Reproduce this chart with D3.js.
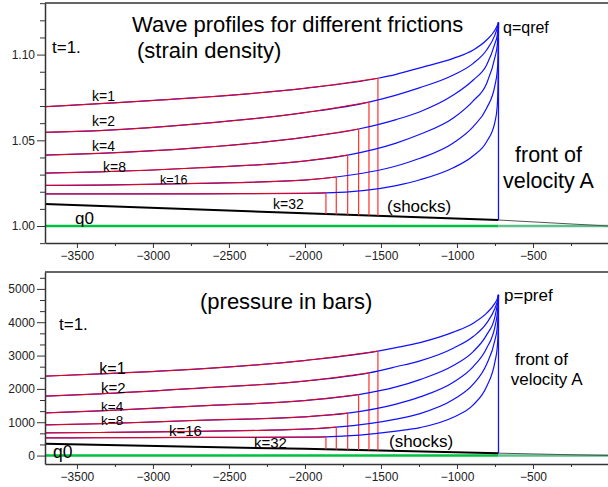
<!DOCTYPE html>
<html>
<head>
<meta charset="utf-8">
<script src="https://cdn.jsdelivr.net/npm/d3@7"></script>
<style>
  body { margin: 0; background: #fff; }
  svg { display: block; font-family: "Liberation Sans", Arial, sans-serif; }
  .tick text { font-size: 12px; fill: #222; }
</style>
</head>
<body>
<svg id="chart" width="608" height="487"></svg>
<script>
// Friction parameters and the common x grid of the profiles
const kValues = [1, 2, 4, 8, 16, 32];
const gridX = [-3710, -3350, -2690, -2005, -1400, -1243, -1024, -893, -805, -750, -735, -729];
const frontX = -727;

// Strain density profiles (top panel), one per k
const strainK1 = [1.0696, 1.0714, 1.0750, 1.0803, 1.0885, 1.0923, 1.0978, 1.1027, 1.1085, 1.1143, 1.1170, 1.1182];
const strainK2 = [1.0547, 1.0557, 1.0597, 1.0661, 1.0764, 1.0807, 1.0881, 1.0949, 1.1027, 1.1115, 1.1155, 1.1175];
const strainK4 = [1.0414, 1.0424, 1.0457, 1.0517, 1.0621, 1.0667, 1.0764, 1.0852, 1.0939, 1.1065, 1.1114, 1.1160];
const strainK8 = [1.0309, 1.0316, 1.0340, 1.0379, 1.0484, 1.0535, 1.0630, 1.0730, 1.0832, 1.0985, 1.1056, 1.1135];
const strainK16 = [1.0237, 1.0239, 1.0249, 1.0268, 1.0350, 1.0395, 1.0485, 1.0580, 1.0687, 1.0822, 1.0905, 1.0998];
const strainK32 = [1.0187, 1.0187, 1.0188, 1.0191, 1.0236, 1.0270, 1.0340, 1.0410, 1.0492, 1.0608, 1.0700, 1.0880];
const qRef = 1.1187;

// Pressure profiles in bars (bottom panel), one per k
const pressK1 = [2382, 2450, 2601, 2850, 3238, 3390, 3702, 3972, 4272, 4572, 4700, 4780];
const pressK2 = [1782, 1850, 2025, 2232, 2665, 2841, 3222, 3570, 3972, 4422, 4620, 4740];
const pressK4 = [1281, 1340, 1490, 1650, 2060, 2280, 2700, 3120, 3621, 4170, 4521, 4690];
const pressK8 = [921, 955, 1060, 1161, 1545, 1760, 2200, 2670, 3222, 3870, 4250, 4560];
const pressK16 = [681, 692, 728, 792, 1095, 1260, 1680, 2140, 2740, 3471, 3850, 4250];
const pressK32 = [531, 534, 545, 552, 735, 840, 1150, 1521, 2070, 2820, 3250, 3800];
const pRef = 4821;

// Shock positions and the profile values there
const shockX = [-1520, -1579, -1647, -1719, -1794, -1862];
const shockStrain = [1.0862, 1.0723, 1.0566, 1.0414, 1.0286, 1.0193];
const shockPress = [3132, 2481, 1830, 1272, 852, 561];

// Initial state q0
const q0StrainX = [-3710, -1862, -727, 0];
const q0Strain = [1.0128, 1.0070, 1.0035, 1.0];
const q0PressX = [-3710, -2005, -727, 0];
const q0Press = [351, 201, 72, 0];
const strainBase = 1.0;
const pressBase = 0;

// Tick values
const xTicks = [-3500, -3000, -2500, -2000, -1500, -1000, -500];
const xMinorTicks = [-3250, -2750, -2250, -1750, -1250, -750, -250];
const strainTicks = [1.00, 1.05, 1.10];
const strainMinorTicks = [0.99, 1.01, 1.02, 1.03, 1.04, 1.06, 1.07, 1.08, 1.09, 1.11, 1.12, 1.13];
const pressTicks = [0, 1000, 2000, 3000, 4000, 5000];
const pressMinorTicks = [333, 667, 1333, 1667, 2333, 2667, 3333, 3667, 4333, 4667, 5333];

let svg = d3.select("#chart");
let x = d3.scaleLinear().domain([-3710, 0]).range([45, 609]);

function drawPanel(opt) {
    let y = d3.scaleLinear().domain(opt.yDomain).range([opt.bottom, opt.top]);
    let g = svg.append("g");
    let line = d3.line().x(d => x(d[0])).y(d => y(d[1])).curve(d3.curveMonotoneX);
    let straight = d3.line().x(d => x(d[0])).y(d => y(d[1]));

    // base level (green), lighter right of the front
    g.append("line").attr("x1", x(-3710)).attr("x2", x(frontX))
        .attr("y1", y(opt.base)).attr("y2", y(opt.base))
        .attr("stroke", "#00c040").attr("stroke-width", 2.5);
    g.append("line").attr("x1", x(frontX)).attr("x2", x(0))
        .attr("y1", y(opt.base)).attr("y2", y(opt.base))
        .attr("stroke", "#5cc08a").attr("stroke-width", 2.5);

    // initial state line (black)
    let q0pts = opt.q0x.map((d, i) => [d, opt.q0y[i]]);
    let q0at = d3.scaleLinear().domain(opt.q0x).range(opt.q0y);
    g.append("path").attr("d", straight(q0pts.filter(p => p[0] <= frontX)))
        .attr("fill", "none").attr("stroke", "#000").attr("stroke-width", 2);
    g.append("path").attr("d", straight(q0pts.filter(p => p[0] >= frontX)))
        .attr("fill", "none").attr("stroke", "#555").attr("stroke-width", 1);

    // profiles for every k
    opt.curves.forEach((vals, i) => {
        let pts = gridX.map((d, j) => [d, vals[j]]);
        pts.push([shockX[i], opt.shockY[i]]);
        pts.sort((a, b) => a[0] - b[0]);
        pts.push([frontX, opt.peak]);

        g.append("path").attr("d", line(pts))
            .attr("fill", "none").attr("stroke", "#1010ff").attr("stroke-width", 1.2);
        g.append("path").attr("d", line(pts.filter(p => p[0] <= shockX[i])))
            .attr("fill", "none").attr("stroke", "#ff0000").attr("stroke-width", 1);

        // shock jump
        g.append("line").attr("x1", x(shockX[i])).attr("x2", x(shockX[i]))
            .attr("y1", y(opt.shockY[i])).attr("y2", y(q0at(shockX[i])))
            .attr("stroke", "#ff3030").attr("stroke-width", 1.2);
    });

    // front of velocity A
    g.append("line").attr("x1", x(frontX)).attr("x2", x(frontX))
        .attr("y1", y(opt.peak)).attr("y2", y(q0at(frontX)))
        .attr("stroke", "#1010ff").attr("stroke-width", 1.3);

    // axes
    let yAxis = d3.axisLeft(y).tickValues(opt.ticks).tickFormat(opt.fmt)
        .tickSize(8).tickSizeOuter(0).tickPadding(2);
    let yMinor = d3.axisLeft(y).tickValues(opt.minor).tickFormat("")
        .tickSize(5).tickSizeOuter(0);
    let xAxis = d3.axisBottom(x).tickValues(xTicks).tickFormat(d3.format("d"))
        .tickSize(5).tickSizeOuter(0).tickPadding(3);
    let xMinor = d3.axisBottom(x).tickValues(xMinorTicks).tickFormat("").tickSize(3).tickSizeOuter(0);

    g.append("g").attr("transform", "translate(45,0)").call(yMinor).select(".domain").remove();
    g.append("g").attr("transform", "translate(45,0)").call(yAxis);
    g.append("g").attr("transform", "translate(0," + opt.bottom + ")").call(xMinor).select(".domain").remove();
    g.append("g").attr("transform", "translate(0," + opt.bottom + ")").call(xAxis);
    g.append("line").attr("x1", 45).attr("x2", 608).attr("y1", opt.top).attr("y2", opt.top)
        .attr("stroke", "#333").attr("stroke-width", 1.5);

    g.selectAll(".domain").attr("stroke", "#333").attr("stroke-width", 1.5);
    g.selectAll(".tick line").attr("stroke", "#333");

    // annotations
    opt.labels.forEach(l => {
        g.append("text").attr("x", l[1]).attr("y", l[2])
            .attr("font-size", l[3] + "px").attr("fill", "#000").text(l[0]);
    });
}

drawPanel({
    top: 3, bottom: 243, yDomain: [0.9901, 1.1301],
    base: strainBase, q0x: q0StrainX, q0y: q0Strain,
    curves: [strainK1, strainK2, strainK4, strainK8, strainK16, strainK32],
    shockY: shockStrain, peak: qRef,
    ticks: strainTicks, minor: strainMinorTicks, fmt: d3.format(".2f"),
    labels: [
        ["Wave profiles for different frictions", 132, 31.5, 22],
        ["(strain density)", 137, 58, 22],
        ["t=1.", 52, 53, 17],
        ["q=qref", 503, 33, 16],
        ["front of", 515, 162, 21.5],
        ["velocity A", 503, 187.5, 21.5],
        ["k=" + kValues[0], 92, 100.5, 14],
        ["k=" + kValues[1], 92, 126, 14],
        ["k=" + kValues[2], 92, 150.7, 14],
        ["k=" + kValues[3], 103, 171.5, 14],
        ["k=" + kValues[4], 160, 184, 12.5],
        ["k=" + kValues[5], 273, 209, 14],
        ["q0", 75, 224, 17],
        ["(shocks)", 387, 211.5, 17]
    ]
});

drawPanel({
    top: 272, bottom: 464, yDomain: [-253, 5507],
    base: pressBase, q0x: q0PressX, q0y: q0Press,
    curves: [pressK1, pressK2, pressK4, pressK8, pressK16, pressK32],
    shockY: shockPress, peak: pRef,
    ticks: pressTicks, minor: pressMinorTicks, fmt: d3.format("d"),
    labels: [
        ["(pressure in bars)", 200, 309, 22],
        ["t=1.", 59, 329.7, 17],
        ["p=pref", 504, 301.3, 17],
        ["front of", 515, 364.7, 17],
        ["velocity A", 510.7, 384.5, 17],
        ["k=" + kValues[0], 99.3, 374, 16],
        ["k=" + kValues[1], 101, 393, 15],
        ["k=" + kValues[2], 101, 411, 13.5],
        ["k=" + kValues[3], 101, 424.7, 13.5],
        ["k=" + kValues[4], 169, 435.7, 15],
        ["k=" + kValues[5], 254, 448, 15],
        ["q0", 53, 458, 17.5],
        ["(shocks)", 389, 447.3, 17]
    ]
});
</script>
</body>
</html>
